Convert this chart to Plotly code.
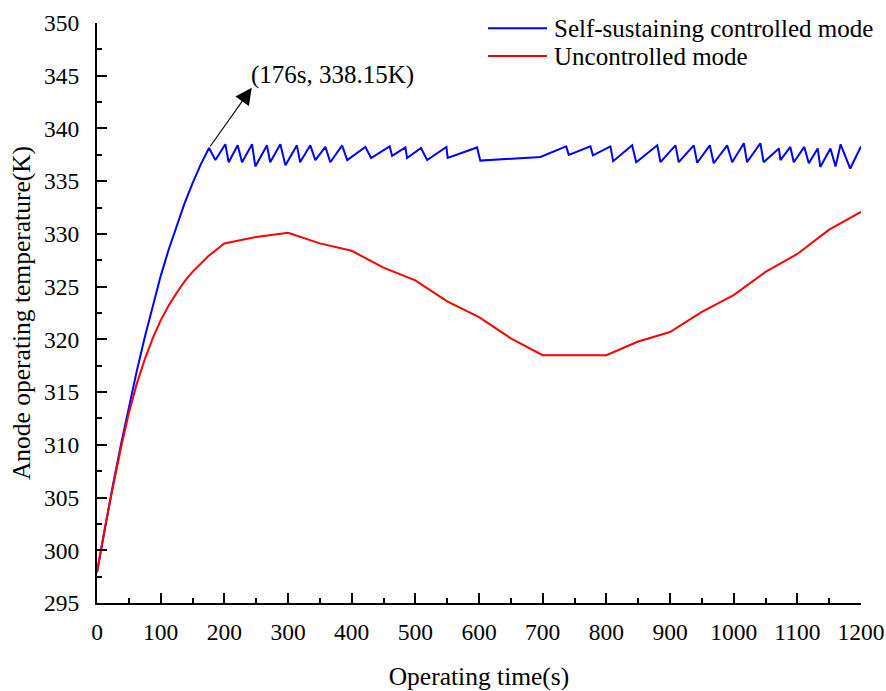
import plotly.graph_objects as go

# ---- data ----
blue_t = [0, 12.5, 25, 37.5, 50, 62.5, 75, 87.5, 100, 112.5, 125, 137.5, 150, 163, 176,
          186, 201.6, 206.8, 221, 227.8, 243.5, 248.7, 267, 272, 288, 296, 314, 319, 335, 343, 358.7, 366.5, 385, 393,
          421.5, 430.5, 459.7, 463.5, 484.4, 487, 509, 518.5, 548.8, 550.8, 597, 602, 696.5,
          737, 741, 775, 779, 806.4, 810.7, 840.5, 847, 880, 885, 908.6, 913.7, 937.3, 942.7, 962.5, 968.7,
          989.8, 997.6, 1016, 1021, 1042, 1047, 1071, 1073.5, 1089, 1094.4, 1111, 1118, 1132, 1136, 1152, 1160,
          1168, 1183, 1200]
blue_T = [297.9, 302.2, 306.2, 310.0, 313.6, 317.0, 320.2, 323.2, 326.0, 328.5, 330.8, 332.9, 334.8, 336.6, 338.15,
          337.0, 338.5, 336.8, 338.4, 336.8, 338.5, 336.4, 338.4, 336.8, 338.5, 336.5, 338.4, 336.8, 338.4, 337.0, 338.25, 336.8, 338.4, 337.0,
          338.25, 337.2, 338.3, 337.4, 338.2, 337.2, 338.15, 337.0, 338.25, 337.2, 338.2, 336.95, 337.3,
          338.3, 337.5, 338.3, 337.45, 338.3, 336.9, 338.4, 336.8, 338.4, 336.8, 338.4, 336.8, 338.4, 336.75, 338.4, 336.7,
          338.4, 336.8, 338.6, 336.8, 338.6, 336.8, 338.1, 337.0, 338.25, 336.8, 338.25, 336.7, 338.1, 336.35, 338.1, 336.4,
          338.5, 336.2, 338.3]

red_t = [0, 12.5, 25, 37.5, 50, 62.5, 75, 87.5, 100, 112.5, 125, 137.5, 150, 162.5, 175, 187.5, 200, 250, 300,
         350, 400, 450, 500, 550, 600, 650, 700, 750, 800, 850, 900, 950, 1000, 1050, 1100, 1150, 1200]
red_T = [297.9, 302.2, 306.0, 309.7, 313.0, 315.8, 318.1, 320.1, 321.8, 323.2, 324.4, 325.5, 326.4, 327.2, 327.9,
         328.5, 329.1, 329.7, 330.1, 329.1, 328.4, 326.8, 325.6, 323.6, 322.1, 320.1, 318.5, 318.5, 318.5,
         319.8, 320.7, 322.6, 324.2, 326.4, 328.1, 330.4, 332.1]

series_names = ["Self-sustaining controlled mode", "Uncontrolled mode"]
series_colors = ["#0000FF", "#FF0000"]

peak_t = 176
peak_T = 338.15
x_ticks = list(range(0, 1201, 100))
y_ticks = list(range(295, 351, 5))

FONT = "Liberation Serif"

fig = go.Figure()
fig.add_trace(go.Scatter(x=blue_t, y=blue_T, mode="lines", name=series_names[0],
                         line=dict(color=series_colors[0], width=2)))
fig.add_trace(go.Scatter(x=red_t, y=red_T, mode="lines", name=series_names[1],
                         line=dict(color=series_colors[1], width=2)))

# arrow from the peak point toward the label
head_dx, head_dy = 67, 5.7
fig.add_annotation(x=peak_t + head_dx, y=peak_T + head_dy, ax=peak_t, ay=peak_T,
                   xref="x", yref="y", axref="x", ayref="y", text="",
                   showarrow=True, arrowhead=2, arrowsize=3.0, arrowwidth=1.1, arrowcolor="black", standoff=0)
fig.add_annotation(x=peak_t + head_dx - 5, y=peak_T + head_dy + 1.25,
                   xref="x", yref="y", text=f"({peak_t}s, {peak_T}K)", showarrow=False,
                   xanchor="left", yanchor="middle", font=dict(family=FONT, size=25, color="black"))

# legend drawn in paper coordinates
leg_x0, leg_x1, leg_tx = 0.5118, 0.589, 0.595
leg_y = [0.991, 0.943]
for name, color, yy in zip(series_names, series_colors, leg_y):
    fig.add_shape(type="line", xref="paper", yref="paper", x0=leg_x0, x1=leg_x1, y0=yy, y1=yy,
                  line=dict(color=color, width=2))
    fig.add_annotation(xref="paper", yref="paper", x=leg_tx, y=yy, text=name, showarrow=False,
                       xanchor="left", yanchor="middle", font=dict(family=FONT, size=25, color="black"))

axis_common = dict(showline=True, linecolor="black", linewidth=2, ticks="inside", ticklen=10, tickwidth=2,
                   tickcolor="black", showgrid=False, zeroline=False, mirror=False, automargin=False,
                   tickfont=dict(family=FONT, size=23.5, color="black"))
fig.update_xaxes(range=[0, 1200], tickvals=x_ticks, ticktext=[str(v) for v in x_ticks],
                 ticklabelstandoff=7,
                 minor=dict(ticks="inside", ticklen=5, tickwidth=2, tickcolor="black", dtick=50, tick0=0),
                 title=dict(text="Operating time(s)", font=dict(family=FONT, size=25.5, color="black"), standoff=27),
                 **axis_common)
fig.update_yaxes(range=[295, 350], tickvals=y_ticks, ticktext=[str(v) for v in y_ticks],
                 ticklabelstandoff=11,
                 minor=dict(ticks="inside", ticklen=5, tickwidth=2, tickcolor="black", dtick=2.5, tick0=295),
                 title=dict(text="Anode operating temperature(K)", font=dict(family=FONT, size=25.5, color="black"),
                            standoff=6),
                 **axis_common)

fig.update_layout(width=886, height=691, plot_bgcolor="white", paper_bgcolor="white",
                  margin=dict(l=97, r=25, t=23, b=88, autoexpand=False),
                  showlegend=False)

fig.write_html("out.html", config={"displayModeBar": False},
               post_script="document.body.style.margin='0';document.body.style.overflow='hidden';")
